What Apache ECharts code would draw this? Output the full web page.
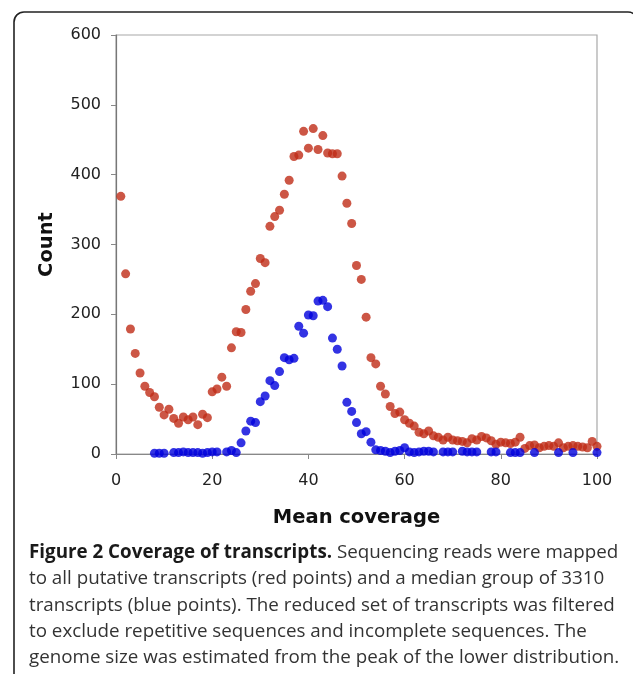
<!DOCTYPE html>
<html>
<head>
<meta charset="utf-8">
<style>
  html, body { margin: 0; padding: 0; background: #fff; }
  #chart { width: 633px; height: 674px; }
</style>
<script src="https://cdn.jsdelivr.net/npm/echarts@6/dist/echarts.min.js"></script>
</head>
<body>
<div id="chart"></div>
<script>
// Mean coverage (x) and transcript counts for all putative transcripts (red)
const allCoverage = [
  1, 2, 3, 4, 5, 6, 7, 8, 9, 10, 11, 12, 13, 14, 15, 16, 17, 18, 19, 20,
  21, 22, 23, 24, 25, 26, 27, 28, 29, 30, 31, 32, 33, 34, 35, 36, 37, 38, 39, 40,
  41, 42, 43, 44, 45, 46, 47, 48, 49, 50, 51, 52, 53, 54, 55, 56, 57, 58, 59, 60,
  61, 62, 63, 64, 65, 66, 67, 68, 69, 70, 71, 72, 73, 74, 75, 76, 77, 78, 79, 80,
  81, 82, 83, 84, 85, 86, 87, 88, 89, 90, 91, 92, 93, 94, 95, 96, 97, 98, 99, 100
];
const allCounts = [
  369, 258, 179, 144, 116, 97, 88, 82, 67, 56, 64, 51, 44, 53, 49, 53, 42, 57, 52, 89,
  93, 110, 97, 152, 175, 174, 207, 233, 244, 280, 274, 326, 340, 349, 372, 392, 426, 428, 462, 438,
  466, 436, 456, 431, 430, 430, 398, 359, 330, 270, 250, 196, 138, 129, 97, 86, 68, 58, 60, 49,
  44, 40, 31, 29, 33, 26, 24, 20, 24, 20, 19, 18, 16, 22, 20, 25, 23, 19, 14, 17,
  16, 15, 17, 24, 8, 12, 13, 9, 11, 12, 11, 16, 9, 11, 12, 11, 10, 9, 18, 11
];

// Median group of 3310 transcripts (blue)
const medianCoverage = [
  8, 9, 10, 12, 13, 14, 15, 16, 17, 18, 19, 20, 21, 23, 24, 25, 26, 27, 28, 29,
  30, 31, 32, 33, 34, 35, 36, 37, 38, 39, 40, 41, 42, 43, 44, 45, 46, 47, 48, 49,
  50, 51, 52, 53, 54, 55, 56, 57, 58, 59, 60, 61, 62, 63, 64, 65, 66, 68, 69, 70,
  72, 73, 74, 75, 78, 79, 82, 83, 84, 87, 92, 95, 100
];
const medianCounts = [
  1, 1, 1, 2, 2, 3, 2, 2, 2, 1, 2, 3, 3, 3, 5, 2, 16, 33, 47, 45,
  75, 83, 105, 98, 118, 138, 135, 137, 183, 173, 199, 198, 219, 220, 211, 166, 150, 126, 74, 61,
  45, 29, 32, 17, 6, 5, 4, 2, 4, 5, 9, 3, 2, 3, 4, 4, 3, 3, 3, 3,
  4, 3, 3, 3, 3, 3, 2, 2, 2, 2, 2, 2, 2
];

const xTicks = [0, 20, 40, 60, 80, 100];
const yTicks = [0, 100, 200, 300, 400, 500, 600];

const captionLines = [
  [{ b: 'Figure 2 Coverage of transcripts.' }, { t: ' Sequencing reads were mapped' }],
  [{ t: 'to all putative transcripts (red points) and a median group of 3310' }],
  [{ t: 'transcripts (blue points). The reduced set of transcripts was filtered' }],
  [{ t: 'to exclude repetitive sequences and incomplete sequences. The' }],
  [{ t: 'genome size was estimated from the peak of the lower distribution.' }]
];

const zip = (xs, ys) => xs.map((x, i) => [x, ys[i]]);

const chart = echarts.init(document.getElementById('chart'), null, { renderer: 'canvas' });

const captionFont = 'Open Sans';
const captionGraphics = captionLines.map((parts, i) => ({
  type: 'text',
  left: 29,
  top: 543 + i * 26.4,
  style: {
    text: parts.map(p => p.b ? '{b|' + p.b + '}' : '{t|' + p.t + '}').join(''),
    rich: {
      b: { fontFamily: captionFont, fontSize: 18.8, fontWeight: 'bold', fill: '#1a1a1a' },
      t: { fontFamily: captionFont, fontSize: 18.8, fill: '#333' }
    }
  }
}));

chart.setOption({
  animation: false,
  backgroundColor: '#fff',
  grid: {
    left: 116, right: 36, top: 35, bottom: 220,
    show: true, borderColor: '#a8a8a8', borderWidth: 1.2
  },
  xAxis: {
    type: 'value', min: 0, max: 100, interval: 20,
    name: 'Mean coverage', nameLocation: 'middle', nameGap: 54,
    nameTextStyle: { fontFamily: 'DejaVu Sans', fontSize: 19.5, fontWeight: 'bold', color: '#111' },
    axisLine: { show: true, lineStyle: { color: '#888', width: 1.2 } },
    axisTick: { show: true, length: 5, lineStyle: { color: '#888' } },
    axisLabel: {
      fontFamily: 'DejaVu Sans', fontSize: 16, color: '#222', margin: 19,
      formatter: v => xTicks.includes(v) ? String(v) : ''
    },
    splitLine: { show: false }
  },
  yAxis: {
    type: 'value', min: 0, max: 600, interval: 100,
    name: 'Count', nameLocation: 'middle', nameGap: 59, nameRotate: 90,
    nameTextStyle: { fontFamily: 'DejaVu Sans', fontSize: 19.5, fontWeight: 'bold', color: '#111' },
    axisLine: { show: true, lineStyle: { color: '#777', width: 1.2 } },
    axisTick: { show: true, length: 5, lineStyle: { color: '#888' } },
    axisLabel: {
      fontFamily: 'DejaVu Sans', fontSize: 16, color: '#222', margin: 15,
      formatter: v => yTicks.includes(v) ? String(v) : ''
    },
    splitLine: { show: false }
  },
  series: [
    {
      name: 'All putative transcripts',
      type: 'scatter',
      symbol: 'circle',
      symbolSize: 9,
      itemStyle: { color: '#bf2c16' },
      data: zip(allCoverage, allCounts),
      z: 3
    },
    {
      name: 'Median group of 3310 transcripts',
      type: 'scatter',
      symbol: 'circle',
      symbolSize: 9,
      itemStyle: { color: '#0000dc' },
      data: zip(medianCoverage, medianCounts),
      z: 4
    }
  ],
  graphic: [
    {
      type: 'rect',
      shape: { x: 14, y: 12, width: 624, height: 720, r: 10 },
      style: { fill: 'none', stroke: '#222', lineWidth: 1.6 },
      silent: true
    },
    ...captionGraphics
  ]
});
</script>
</body>
</html>
